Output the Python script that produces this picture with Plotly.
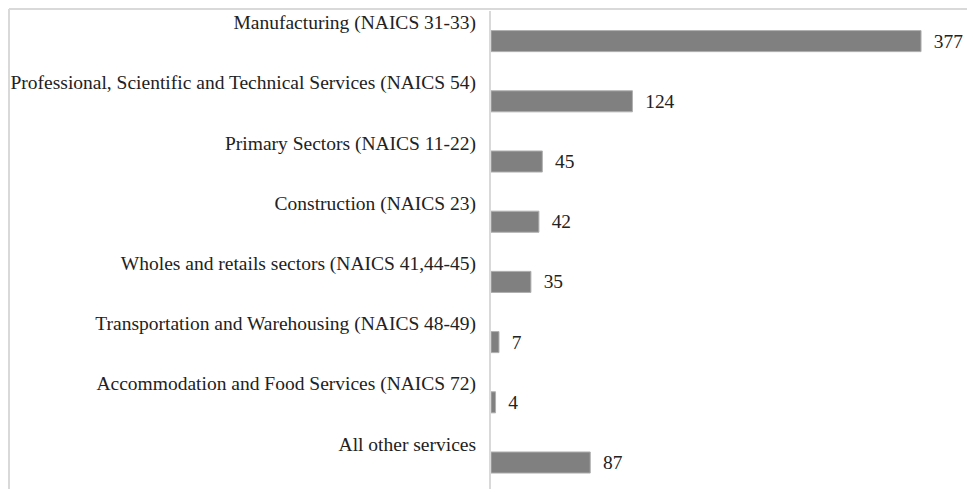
import plotly.graph_objects as go

categories = [
    "Manufacturing (NAICS 31-33)",
    "Professional, Scientific and Technical Services (NAICS 54)",
    "Primary Sectors (NAICS 11-22)",
    "Construction (NAICS 23)",
    "Wholes and retails sectors (NAICS 41,44-45)",
    "Transportation and Warehousing (NAICS 48-49)",
    "Accommodation and Food Services (NAICS 72)",
    "All other services",
]
values = [377, 124, 45, 42, 35, 7, 4, 87]

positions = list(range(len(categories)))
label_offset = 0.31
tick_positions = [p - label_offset for p in positions]

fig = go.Figure(
    go.Bar(
        x=values,
        y=positions,
        orientation="h",
        width=0.35,
        marker=dict(color="#808080", line=dict(color="#b0b0b0", width=1)),
        text=values,
        textposition="outside",
        texttemplate="  %{text}",
        textfont=dict(family="Liberation Serif", size=24, color="#222222"),
        cliponaxis=False,
        hoverinfo="skip",
    )
)

fig.update_layout(
    width=967,
    height=481,
    margin=dict(l=483, r=0, t=3, b=0),
    paper_bgcolor="white",
    plot_bgcolor="white",
    showlegend=False,
    font=dict(family="Liberation Serif", color="#222222"),
    xaxis=dict(
        range=[0, 424.3],
        showgrid=False,
        zeroline=False,
        showticklabels=False,
        showline=False,
        fixedrange=True,
    ),
    yaxis=dict(
        range=[7.44, -0.5],
        tickmode="array",
        tickvals=tick_positions,
        ticktext=categories,
        ticks="",
        ticklabelstandoff=9,
        tickfont=dict(family="Liberation Serif", size=19.5, color="#222222"),
        showgrid=False,
        zeroline=False,
        showline=True,
        linecolor="#d9d9d9",
        linewidth=2,
        fixedrange=True,
    ),
    shapes=[
        dict(type="line", xref="paper", yref="paper",
             x0=-0.9959, x1=1.0, y0=1.0042, y1=1.0042,
             line=dict(color="#d9d9d9", width=2)),
        dict(type="line", xref="paper", yref="paper",
             x0=-0.9959, x1=-0.9959, y0=1.0042, y1=-0.05,
             line=dict(color="#d9d9d9", width=2)),
    ],
)

fig.write_html("out.html")
